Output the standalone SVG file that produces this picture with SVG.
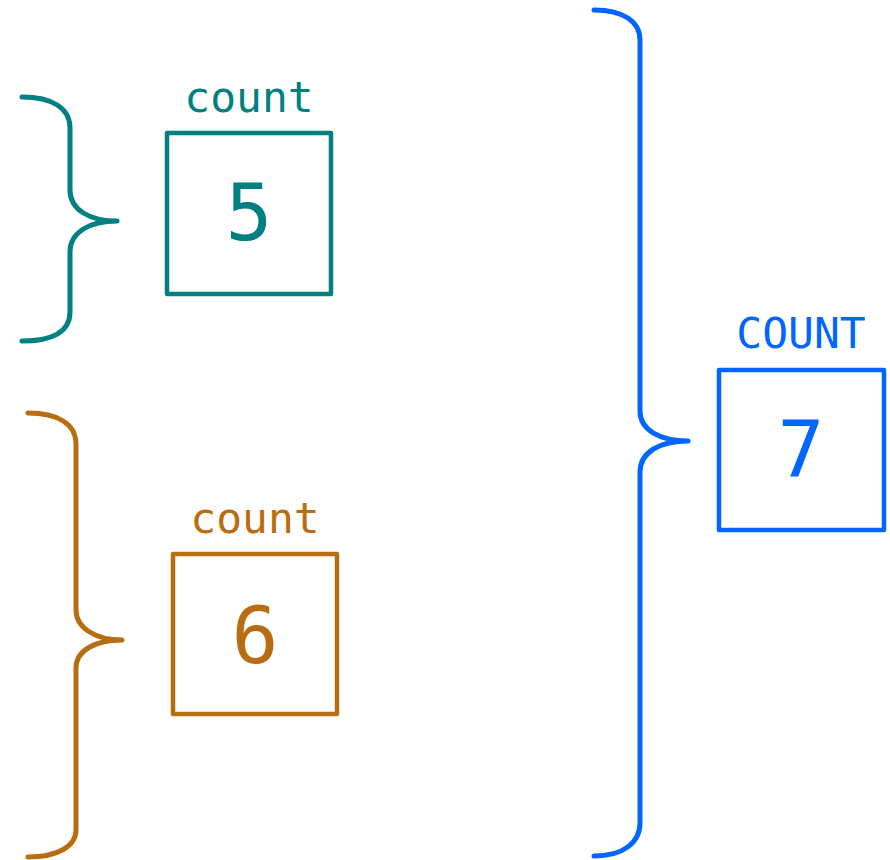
<svg xmlns="http://www.w3.org/2000/svg" width="890" height="860" viewBox="0 0 890 860">
<style>
.br{fill:none;stroke-width:5;stroke-linecap:round;stroke-linejoin:round}
.box{fill:#fff;stroke-width:4.5;stroke-linejoin:round}
.lbl{font-family:"DejaVu Sans Mono",monospace;font-size:43px;text-anchor:middle}
.val{font-family:"DejaVu Sans Mono",monospace;font-size:78px;text-anchor:middle}
.teal{stroke:#008080}.tealf{fill:#008080}
.brown{stroke:#b86e10}.brownf{fill:#b86e10}
.blue{stroke:#0066ff}.bluef{fill:#0066ff}
</style>
<rect width="890" height="860" fill="#fff"/>
<g id="connectors">
<path class="br teal" d="M22,97 C52,97 70,108 70,128 V190 C70,210 90,221 117,221 C90,221 70,232 70,252 V312 C70,332 52,341 22,341"/>
<path class="br brown" d="M28,413 C58,413 76,424 76,444 V610 C76,628 96,640 122,640 C96,640 76,650 76,668 V830 C76,846 58,857 28,857"/>
<path class="br blue" d="M594,10 C624,10 640,22 640,40 V411 C640,430 660,441 688,441 C660,441 640,452 640,472 V823 C640,842 624,856 594,856"/>
</g>
<g id="node-count5">
<rect class="box teal" x="167" y="133" width="164" height="161"/>
<text class="lbl tealf" x="249" y="112">count</text>
<text class="val tealf" x="249" y="240">5</text>
</g>
<g id="node-count6">
<rect class="box brown" x="173" y="554" width="164" height="160"/>
<text class="lbl brownf" x="255" y="533">count</text>
<text class="val brownf" x="255" y="663">6</text>
</g>
<g id="node-COUNT7">
<rect class="box blue" x="719" y="370" width="165" height="160"/>
<text class="lbl bluef" x="801" y="348">COUNT</text>
<text class="val bluef" x="801" y="477">7</text>
</g>
</svg>
